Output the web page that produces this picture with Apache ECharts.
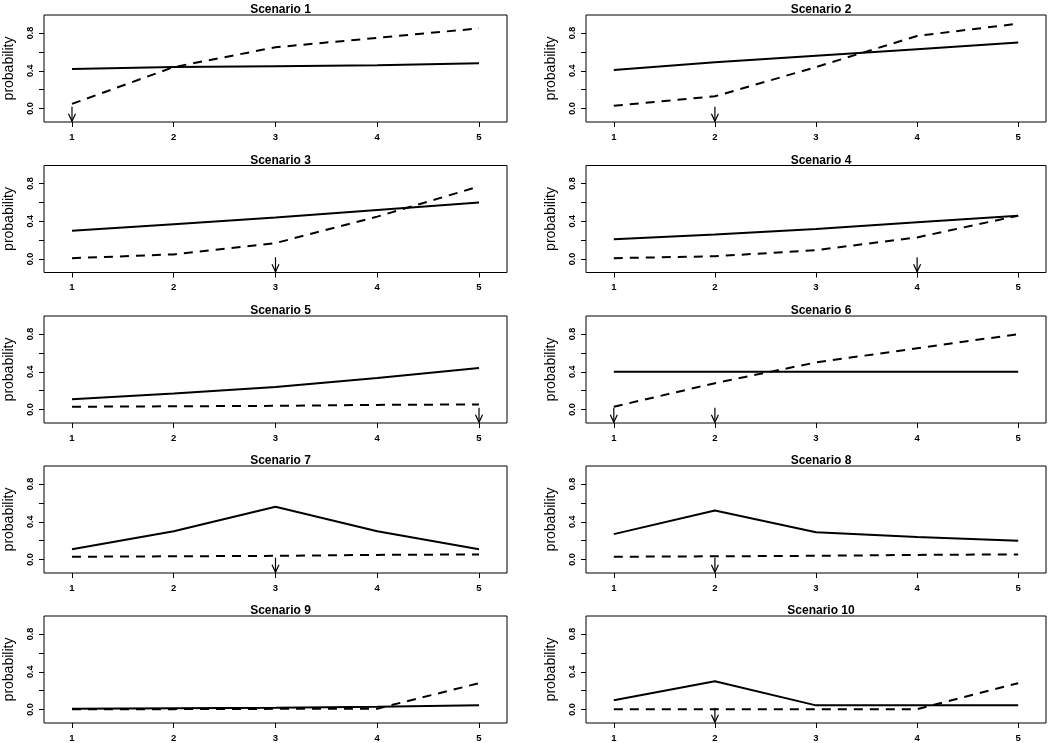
<!DOCTYPE html>
<html>
<head>
<meta charset="utf-8">
<script src="https://cdn.jsdelivr.net/npm/echarts@6/dist/echarts.min.js"></script>
<style>
html,body{margin:0;padding:0;background:#fff;}
#chart{width:1050px;height:743px;}
</style>
</head>
<body>
<div id="chart"></div>
<script>
// ---- data ----
const doses = [1, 2, 3, 4, 5];
const scenarioNames = ["Scenario 1","Scenario 2","Scenario 3","Scenario 4","Scenario 5",
                       "Scenario 6","Scenario 7","Scenario 8","Scenario 9","Scenario 10"];
// solid line (efficacy)
const solid1 = [0.42, 0.44, 0.45, 0.46, 0.48];
const solid2 = [0.41, 0.49, 0.56, 0.63, 0.70];
const solid3 = [0.30, 0.37, 0.44, 0.52, 0.60];
const solid4 = [0.21, 0.26, 0.32, 0.39, 0.46];
const solid5 = [0.11, 0.17, 0.24, 0.335, 0.44];
const solid6 = [0.40, 0.40, 0.40, 0.40, 0.40];
const solid7 = [0.11, 0.30, 0.56, 0.30, 0.11];
const solid8 = [0.27, 0.52, 0.29, 0.24, 0.20];
const solid9 = [0.01, 0.015, 0.02, 0.03, 0.045];
const solid10 = [0.10, 0.30, 0.045, 0.045, 0.045];
// dashed line (toxicity)
const dashed1 = [0.05, 0.44, 0.65, 0.75, 0.85];
const dashed2 = [0.03, 0.13, 0.44, 0.77, 0.90];
const dashed3 = [0.01, 0.05, 0.17, 0.45, 0.77];
const dashed4 = [0.01, 0.03, 0.095, 0.23, 0.46];
const dashed5 = [0.03, 0.035, 0.04, 0.05, 0.055];
const dashed6 = [0.03, 0.28, 0.50, 0.65, 0.80];
const dashed7 = [0.03, 0.035, 0.04, 0.05, 0.055];
const dashed8 = [0.03, 0.035, 0.04, 0.05, 0.055];
const dashed9 = [0.005, 0.005, 0.008, 0.01, 0.28];
const dashed10 = [0.005, 0.005, 0.005, 0.005, 0.28];
// arrow (target dose) positions
const arrows = [[1],[2],[3],[4],[5],[1,2],[3],[2],[],[2]];
const yTicks = [0, 0.2, 0.4, 0.6, 0.8];
const yTickLabels = [0, 0.4, 0.8];
const xTicks = [1, 2, 3, 4, 5];
const yLabel = "probability";

const solids = [solid1,solid2,solid3,solid4,solid5,solid6,solid7,solid8,solid9,solid10];
const dasheds = [dashed1,dashed2,dashed3,dashed4,dashed5,dashed6,dashed7,dashed8,dashed9,dashed10];

// ---- layout ----
const colLeft = [44, 586];
const colWidth = [463, 460];
const rowTop = [15, 165.5, 316, 466, 616];
const boxH = 107;
const FONT = "Liberation Sans, Arial, sans-serif";

const grids = [], xAxes = [], yAxes = [], series = [], titles = [];
for (let i = 0; i < 10; i++) {
  const c = i % 2, r = Math.floor(i / 2);
  grids.push({
    left: colLeft[c], top: rowTop[r], width: colWidth[c], height: boxH,
    show: true, borderColor: '#000', borderWidth: 1, backgroundColor: 'transparent',
    containLabel: false, outerBoundsMode: 'none'
  });
  xAxes.push({
    type: 'value', gridIndex: i, min: 0.725, max: 5.275, position: 'bottom',
    splitLine: {show: false}, axisLine: {show: false, onZero: false},
    axisTick: {show: true, length: 5, lineStyle: {color: '#000'}, customValues: xTicks},
    axisLabel: {show: true, customValues: xTicks, fontFamily: FONT, fontSize: 9.5, fontWeight: 'bold', color: '#000', margin: 10}
  });
  yAxes.push({
    type: 'value', gridIndex: i, min: -0.142, max: 0.992, position: 'left',
    splitLine: {show: false}, axisLine: {show: false, onZero: false},
    axisTick: {show: true, length: 5, lineStyle: {color: '#000'}, customValues: yTicks},
    axisLabel: {show: true, customValues: yTickLabels, rotate: 90, fontFamily: FONT, fontSize: 9, fontWeight: 'bold', color: '#000', margin: 9,
      formatter: v => v.toFixed(1)},
    name: yLabel, nameLocation: 'middle', nameRotate: 90, nameGap: 28,
    nameTextStyle: {fontFamily: FONT, fontSize: 14, color: '#000'}
  });
  titles.push({
    text: scenarioNames[i],
    left: colLeft[c] + colWidth[c] / 2, top: rowTop[r] - 16, textAlign: 'center',
    textStyle: {fontFamily: FONT, fontSize: 12, fontWeight: 'bold', color: '#000'}
  });
  series.push({
    type: 'line', xAxisIndex: i, yAxisIndex: i, symbol: 'none', silent: true,
    data: doses.map((d, k) => [d, solids[i][k]]),
    lineStyle: {color: '#000', width: 2, type: 'solid'}, animation: false
  });
  series.push({
    type: 'line', xAxisIndex: i, yAxisIndex: i, symbol: 'none', silent: true,
    data: doses.map((d, k) => [d, dasheds[i][k]]),
    lineStyle: {color: '#000', width: 2, type: [9, 7]}, animation: false
  });
  series.push({
    type: 'custom', xAxisIndex: i, yAxisIndex: i, silent: true, clip: false, animation: false,
    data: arrows[i].map(a => [a, 0.02, -0.135]),
    renderItem: function (params, api) {
      const top = api.coord([api.value(0), api.value(1)]);
      const tip = api.coord([api.value(0), api.value(2)]);
      const st = {stroke: '#000', lineWidth: 1.2, fill: null};
      return {
        type: 'group', children: [
          {type: 'line', shape: {x1: top[0], y1: top[1], x2: tip[0], y2: tip[1]}, style: st},
          {type: 'polyline', shape: {points: [[tip[0] - 3.5, tip[1] - 7.5], [tip[0], tip[1]], [tip[0] + 3.5, tip[1] - 7.5]]}, style: st}
        ]
      };
    }
  });
}

const chart = echarts.init(document.getElementById('chart'), null, {renderer: 'canvas'});
chart.setOption({
  backgroundColor: '#fff',
  animation: false,
  title: titles,
  grid: grids,
  xAxis: xAxes,
  yAxis: yAxes,
  series: series
});
</script>
</body>
</html>
